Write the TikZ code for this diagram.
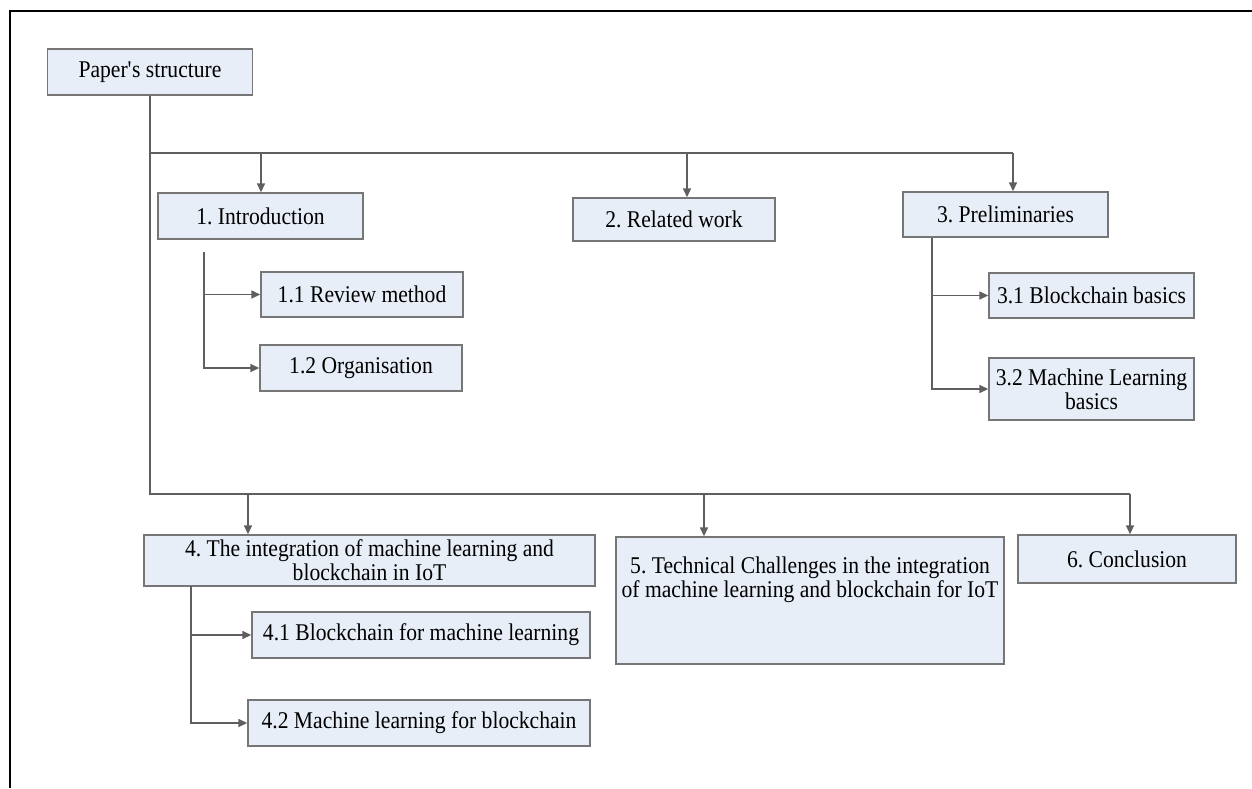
\documentclass[tikz,border=0pt]{standalone}
\usepackage{fontspec}
\setmainfont[FakeStretch=0.9]{Liberation Serif}
\usetikzlibrary{arrows.meta, positioning}
\definecolor{boxfill}{RGB}{231,238,247}
\definecolor{boxline}{RGB}{118,118,118}
\definecolor{linkgray}{RGB}{95,95,95}

\begin{document}
\begin{tikzpicture}[x=1pt, y=-1pt,
  box/.style={draw=boxline, line width=1.4pt, fill=boxfill, inner sep=0pt, align=center, font=\fontsize{24pt}{24pt}\selectfont\frenchspacing},
  txt/.style={inner sep=0pt, align=center, font=\fontsize{24pt}{24pt}\selectfont\frenchspacing},
  link/.style={draw=linkgray, line width=1.5pt},
  arr/.style={link, -{Triangle[length=9pt, width=8pt]}}]
\useasboundingbox (0,0) rectangle (1252,788);
% Frame
\draw[line width=1.6pt] (1252,11) -- (10,11) -- (10,788);
% Root
\node[box, minimum width=205pt, minimum height=46pt] (paper) at (150,72) {Paper\textquotesingle s structure};
% First row
\node[box, minimum width=205pt, minimum height=46pt] (intro) at (260.5,216) {1. Introduction};
\node[box, minimum width=202pt, minimum height=43pt] (related) at (674,219.5) {2. Related work};
\node[box, minimum width=205pt, minimum height=45pt] (prelim) at (1005.5,214.5) {3. Preliminaries};
\node[box, minimum width=202pt, minimum height=45pt] (review) at (362,294.5) {1.1 Review method};
\node[box, minimum width=202pt, minimum height=46pt] (organ) at (361,368) {1.2 Organisation};
\node[box, minimum width=205pt, minimum height=45pt] (bcbasics) at (1091.5,295.5) {3.1 Blockchain basics};
\node[box, minimum width=205pt, minimum height=62pt] (mlbasics) at (1091.5,389) {3.2 Machine Learning\\basics};
% Second row
\node[box, minimum width=451pt, minimum height=51pt] (integ) at (369.5,560.5) {4. The integration of machine learning and\\blockchain in IoT};
\node[box, minimum width=388pt, minimum height=127pt] (chall) at (810,600.5) {};
\node[txt, below=20pt of chall.north] (challtxt) {5. Technical Challenges in the integration\\of machine learning and blockchain for IoT};
\node[box, minimum width=218pt, minimum height=48pt] (concl) at (1127,559) {6. Conclusion};
\node[box, minimum width=338pt, minimum height=46pt] (bcforml) at (421,635) {4.1 Blockchain for machine learning};
\node[box, minimum width=342pt, minimum height=46pt] (mlforbc) at (419,723) {4.2 Machine learning for blockchain};
% Buses
\coordinate (bus1) at (150,153);
\coordinate (bus2) at (150,494);
\coordinate (d1) at (261,153);
\coordinate (d2) at (687,153);
\coordinate (d3) at (1013,153);
\coordinate (d4) at (248,494);
\coordinate (d5) at (704,494);
\coordinate (d6) at (1130,494);
\draw[link] (paper.south) -- (bus2) -- (d6);
\draw[link] (bus1) -- (d3);
\draw[arr] (d1) -- (d1 |- intro.north);
\draw[arr] (d2) -- (d2 |- related.north);
\draw[arr] (d3) -- (d3 |- prelim.north);
\draw[arr] (d4) -- (d4 |- integ.north);
\draw[arr] (d5) -- (d5 |- chall.north);
\draw[arr] (d6) -- (d6 |- concl.north);
% Branches
\coordinate (b1) at (204,252);
\coordinate (b3) at (932,238);
\coordinate (b4) at (191,586);
\draw[arr] (b1) |- (organ.west);
\draw[arr] (b1 |- review.west) -- (review.west);
\draw[arr] (b3) |- (mlbasics.west);
\draw[arr] (b3 |- bcbasics.west) -- (bcbasics.west);
\draw[arr] (b4) |- (mlforbc.west);
\draw[arr] (b4 |- bcforml.west) -- (bcforml.west);
\end{tikzpicture}
\end{document}
